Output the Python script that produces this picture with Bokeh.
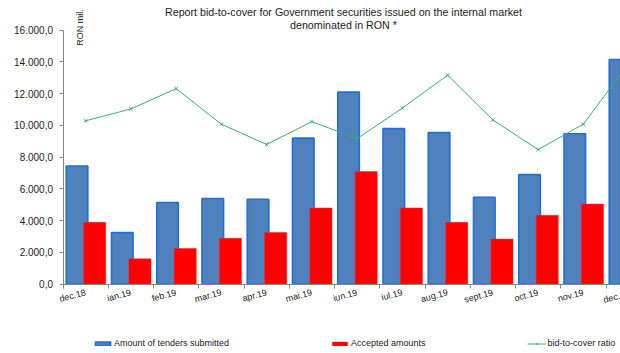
from math import pi
from bokeh.plotting import figure
from bokeh.models import (Range1d, FixedTicker, Legend, LegendItem, Label,
                          LinearAxis)
from bokeh.embed import file_html
from bokeh.resources import INLINE

categories = ["dec.18", "ian.19", "feb.19", "mar.19", "apr.19", "mai.19", "iun.19",
              "iul.19", "aug.19", "sept.19", "oct.19", "nov.19", "dec.19"]
tenders = [7450, 3250, 5150, 5400, 5350, 9200, 12100, 9800, 9550, 5480, 6900, 9480, 14150]
accepted = [3900, 1600, 2250, 2900, 3250, 4800, 7100, 4800, 3900, 2850, 4350, 5050, 5450]
ratio = [1.93, 2.07, 2.31, 1.89, 1.65, 1.92, 1.72, 2.08, 2.47, 1.94, 1.59, 1.89, 2.61]
y_ticks = [0, 2000, 4000, 6000, 8000, 10000, 12000, 14000, 16000]

FONT = "Liberation Sans"
AXIS_GREY = "#868686"
TEXT = "#222222"

xc = list(range(1, len(categories) + 1))
blue_x = [c - 0.19 for c in xc]
red_x = [c + 0.20 for c in xc]

W, H = 620, 353
X0PX, Y0PX = 62.5, 283.7          # canvas position of the axes origin
PX_PER_CAT, PX_PER_1000 = 45.25, 15.875
x_range = Range1d(0.5 - X0PX / PX_PER_CAT, 0.5 + (W - X0PX) / PX_PER_CAT)
y_range = Range1d(-(H - Y0PX) / PX_PER_1000 * 1000, Y0PX / PX_PER_1000 * 1000)

p = figure(width=W, height=H, x_range=x_range, y_range=y_range,
           output_backend="svg", toolbar_location=None,
           x_axis_location=None, y_axis_location=None,
           min_border_left=0, min_border_right=0, min_border_top=0, min_border_bottom=0)
p.outline_line_color = None
p.xgrid.visible = False
p.ygrid.visible = False
RATIO_SCALE = 5333.0
p.extra_y_ranges = {"ratio": Range1d(y_range.start / RATIO_SCALE, y_range.end / RATIO_SCALE)}

rb = p.vbar(x=blue_x, top=tenders, width=0.477, bottom=0,
            fill_color="#4f81bd", line_color="#1f6fd6", line_width=1.6)
rr = p.vbar(x=red_x, top=accepted, width=0.49, bottom=0,
            fill_color="#ff0000", line_color="#ff2a2a", line_width=0.5)
rl = p.line(x=xc, y=ratio, y_range_name="ratio", line_color="#3fae6e", line_width=1)
rs = p.scatter(x=xc, y=ratio, y_range_name="ratio", marker="x", size=5,
               line_color="#3fae6e", line_width=1)

# x axis
xa = LinearAxis(fixed_location=0, bounds=(0.5, 13.5))
xa.ticker = FixedTicker(ticks=xc, minor_ticks=[c - 0.5 for c in xc] + [xc[-1] + 0.5])
xa.major_label_overrides = {c: lab for c, lab in zip(xc, categories)}
xa.major_tick_out = 0
xa.major_tick_in = 0
xa.minor_tick_out = 4
xa.minor_tick_in = 0
xa.minor_tick_line_color = AXIS_GREY
xa.axis_line_color = AXIS_GREY
xa.major_label_orientation = 0.26
xa.major_label_text_font = FONT
xa.major_label_text_font_size = "9px"
xa.major_label_text_color = TEXT
xa.major_label_standoff = 4
p.add_layout(xa, "below")

# last category label is only partly inside the picture (cut at the right edge, as in the original)
p.add_layout(Label(x=xc[-1], y=0, text=categories[-1], x_offset=1, y_offset=-9,
                   angle=0.26, text_align="right", text_baseline="middle",
                   text_font=FONT, text_font_size="9px", text_color=TEXT))

# y axis
def fmt(v):
    s = f"{v:,.1f}"
    return s.replace(",", "X").replace(".", ",").replace("X", ".")

ya = LinearAxis(fixed_location=0.5, bounds=(0, 16000))
ya.ticker = FixedTicker(ticks=y_ticks)
ya.major_label_overrides = {v: fmt(v) for v in y_ticks}
ya.minor_tick_line_color = None
ya.major_tick_out = 4
ya.major_tick_in = 0
ya.major_tick_line_color = AXIS_GREY
ya.axis_line_color = AXIS_GREY
ya.major_label_text_font = FONT
ya.major_label_text_font_size = "10px"
ya.major_label_text_color = TEXT
ya.major_label_standoff = 6
p.add_layout(ya, "left")

# titles (screen units relative to the frame's bottom-left)
for txt, yy in [("Report bid-to-cover for Government securities issued on the internal market", H - 11),
                ("denominated in RON *", H - 24)]:
    p.add_layout(Label(x=343, y=yy, x_units="screen", y_units="screen", text=txt,
                       text_align="center", text_baseline="middle", text_font=FONT,
                       text_font_size="10.7px", text_color=TEXT))
p.add_layout(Label(x=79, y=H - 27, x_units="screen", y_units="screen", text="RON mil.",
                   angle=pi / 2, text_align="center", text_baseline="middle",
                   text_font=FONT, text_font_size="9px", text_color=TEXT))

legend = Legend(items=[LegendItem(label="Amount of tenders submitted", renderers=[rb]),
                       LegendItem(label="Accepted amounts", renderers=[rr]),
                       LegendItem(label="bid-to-cover ratio", renderers=[rl, rs])],
                orientation="horizontal", location=(93, 5), spacing=101, padding=0,
                margin=0, glyph_width=19, glyph_height=5, label_standoff=2,
                label_text_font=FONT, label_text_font_size="9px", label_text_color=TEXT,
                label_height=10, border_line_color=None, background_fill_alpha=0)
p.add_layout(legend)

open("out.html", "w").write(file_html(p, INLINE))
